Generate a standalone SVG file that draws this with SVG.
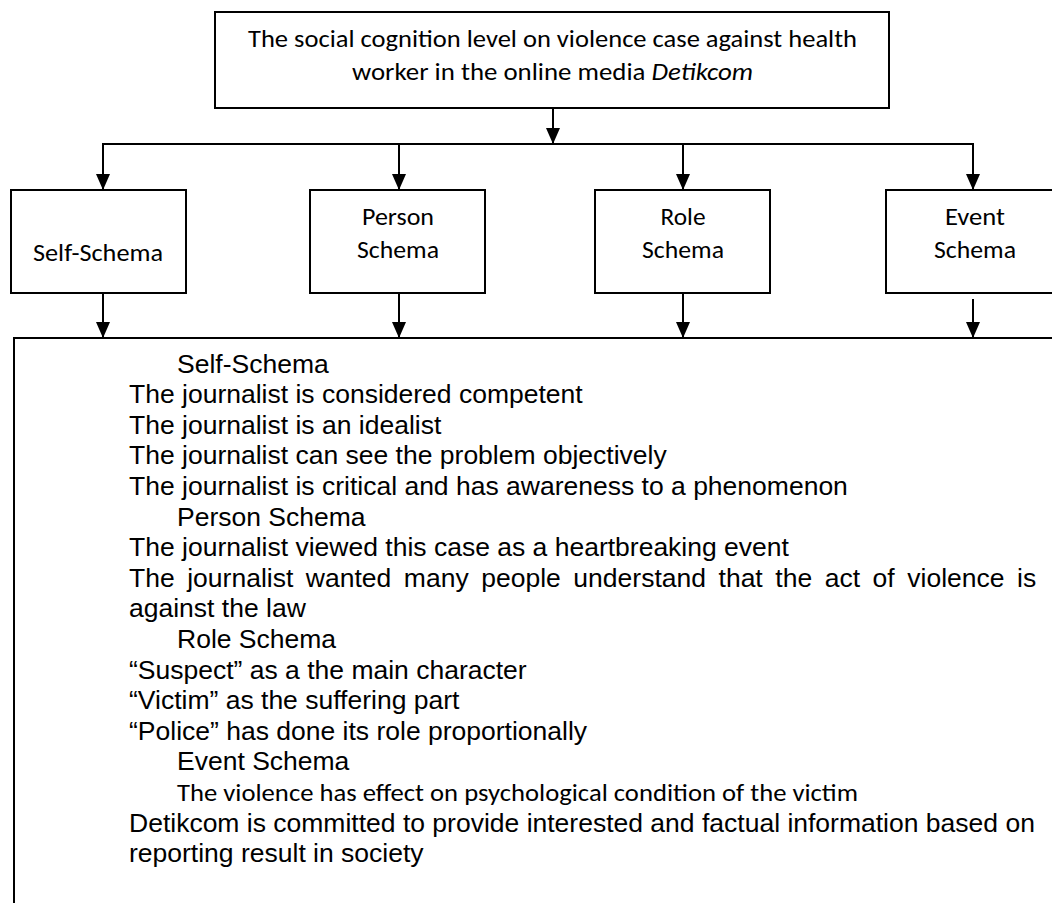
<svg xmlns="http://www.w3.org/2000/svg" width="1052" height="903" viewBox="0 0 1052 903">
  <style>
    .box { fill: #ffffff; stroke: #000000; stroke-width: 2; }
    .cal { font-family: Carlito, Lato, "Open Sans", sans-serif; font-size: 25.5px; fill: #000000; }
    .ar { font-family: "Liberation Sans", Arial, sans-serif; font-size: 26.5px; fill: #000000; }
    .con { stroke: #000000; stroke-width: 2; fill: none; }
  </style>
  <defs>
    <marker id="arr" markerUnits="userSpaceOnUse" markerWidth="16" markerHeight="14" viewBox="0 0 16 14" refX="16" refY="7" orient="auto">
      <path d="M0,0 L16,7 L0,14 z" fill="#000000"/>
    </marker>
  </defs>
  <rect x="0" y="0" width="1052" height="903" fill="#ffffff"/>

  <g id="connectors">
    <line class="con" x1="553" y1="108" x2="553" y2="144" marker-end="url(#arr)"/>
    <line class="con" x1="102" y1="144" x2="974" y2="144"/>
    <line class="con" x1="103" y1="144" x2="103" y2="190" marker-end="url(#arr)"/>
    <line class="con" x1="399" y1="144" x2="399" y2="190" marker-end="url(#arr)"/>
    <line class="con" x1="683" y1="144" x2="683" y2="190" marker-end="url(#arr)"/>
    <line class="con" x1="973" y1="144" x2="973" y2="190" marker-end="url(#arr)"/>
    <line class="con" x1="103" y1="293" x2="103" y2="338" marker-end="url(#arr)"/>
    <line class="con" x1="399" y1="293" x2="399" y2="338" marker-end="url(#arr)"/>
    <line class="con" x1="683" y1="293" x2="683" y2="338" marker-end="url(#arr)"/>
    <line class="con" x1="973" y1="299" x2="973" y2="338" marker-end="url(#arr)"/>
  </g>

  <g id="top-node">
    <rect class="box" x="215" y="12" width="674" height="96"/>
    <text class="cal" x="248" y="47" textLength="609" lengthAdjust="spacingAndGlyphs">The social cognition level on violence case against health</text>
    <text class="cal" x="352" y="80" textLength="401" lengthAdjust="spacingAndGlyphs">worker in the online media <tspan font-style="italic">Detikcom</tspan></text>
  </g>

  <g id="self-schema">
    <rect class="box" x="11" y="190" width="175" height="103"/>
    <text class="cal" x="98" y="261" text-anchor="middle" textLength="130" lengthAdjust="spacingAndGlyphs">Self-Schema</text>
  </g>

  <g id="person-schema">
    <rect class="box" x="310" y="190" width="175" height="103"/>
    <text class="cal" x="398" y="225" text-anchor="middle" textLength="72" lengthAdjust="spacingAndGlyphs">Person</text>
    <text class="cal" x="398" y="258" text-anchor="middle" textLength="82" lengthAdjust="spacingAndGlyphs">Schema</text>
  </g>

  <g id="role-schema">
    <rect class="box" x="595" y="190" width="175" height="103"/>
    <text class="cal" x="683" y="225" text-anchor="middle" textLength="45" lengthAdjust="spacingAndGlyphs">Role</text>
    <text class="cal" x="683" y="258" text-anchor="middle" textLength="82" lengthAdjust="spacingAndGlyphs">Schema</text>
  </g>

  <g id="event-schema">
    <rect class="box" x="886" y="190" width="175" height="103"/>
    <text class="cal" x="975" y="225" text-anchor="middle" textLength="60" lengthAdjust="spacingAndGlyphs">Event</text>
    <text class="cal" x="975" y="258" text-anchor="middle" textLength="82" lengthAdjust="spacingAndGlyphs">Schema</text>
  </g>

  <g id="summary">
    <rect class="box" x="14" y="338" width="1100" height="700"/>
    <text class="ar" x="177" y="372.5">Self-Schema</text>
    <text class="ar" x="129" y="403.1">The journalist is considered competent</text>
    <text class="ar" x="129" y="433.7">The journalist is an idealist</text>
    <text class="ar" x="129" y="464.3">The journalist can see the problem objectively</text>
    <text class="ar" x="129" y="494.9">The journalist is critical and has awareness to a phenomenon</text>
    <text class="ar" x="177" y="525.5">Person Schema</text>
    <text class="ar" x="129" y="556.1">The journalist viewed this case as a heartbreaking event</text>
    <text class="ar" x="129" y="586.7" word-spacing="5.2">The journalist wanted many people understand that the act of violence is</text>
    <text class="ar" x="129" y="617.3">against the law</text>
    <text class="ar" x="177" y="647.9">Role Schema</text>
    <text class="ar" x="129" y="678.5">“Suspect” as a the main character</text>
    <text class="ar" x="129" y="709.1">“Victim” as the suffering part</text>
    <text class="ar" x="129" y="739.7">“Police” has done its role proportionally</text>
    <text class="ar" x="177" y="770.3">Event Schema</text>
    <text class="cal" x="177" y="800.9" textLength="681" lengthAdjust="spacingAndGlyphs">The violence has effect on psychological condition of the victim</text>
    <text class="ar" x="129" y="831.5">Detikcom is committed to provide interested and factual information based on</text>
    <text class="ar" x="129" y="862.1">reporting result in society</text>
  </g>
</svg>
